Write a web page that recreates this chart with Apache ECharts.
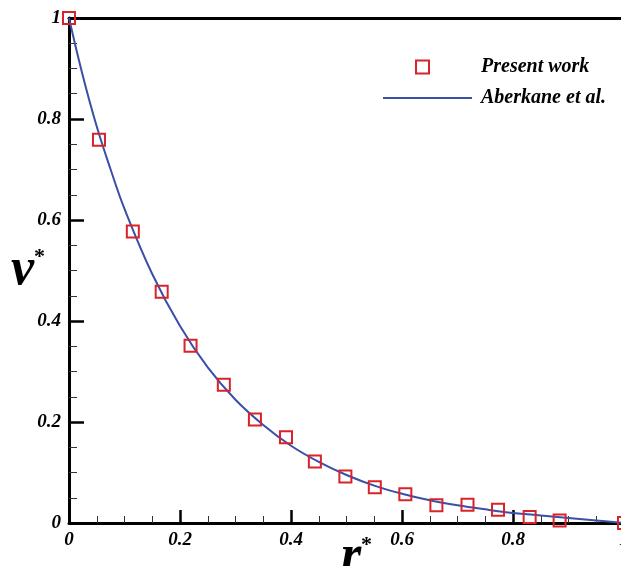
<!DOCTYPE html>
<html>
<head>
<meta charset="utf-8">
<script src="https://cdn.jsdelivr.net/npm/echarts@6/dist/echarts.min.js"></script>
<style>
  html, body { margin: 0; padding: 0; background: #fff; }
  #chart { width: 621px; height: 566px; }
</style>
</head>
<body>
<div id="chart"></div>
<script>
// present work (squares)
const markerR = [0, 0.054, 0.115, 0.167, 0.219, 0.279, 0.335, 0.391, 0.443, 0.498, 0.551, 0.606, 0.662, 0.718, 0.773, 0.83, 0.884, 1.0]
const markerV = [1.0, 0.759, 0.577, 0.458, 0.351, 0.274, 0.205, 0.170, 0.122, 0.092, 0.071, 0.057, 0.035, 0.036, 0.026, 0.012, 0.005, 0.0]
// Aberkane et al. (line)
const lineR = [0, 0.025, 0.05, 0.075, 0.1, 0.15, 0.2, 0.25, 0.3, 0.35, 0.4, 0.45, 0.5, 0.55, 0.6, 0.65, 0.7, 0.75, 0.8, 0.85, 0.9, 0.95, 1.0]
const lineV = [1.0, 0.885, 0.785, 0.700, 0.622, 0.493, 0.390, 0.308, 0.244, 0.194, 0.153, 0.121, 0.095, 0.074, 0.058, 0.045, 0.035, 0.027, 0.020, 0.015, 0.010, 0.005, 0.0]

const font = 'Liberation Serif'
const red = '#d9232a'
const blue = '#3a4fa6'

const labelStyle = { fontFamily: font, fontWeight: 'bold', fontStyle: 'italic', fontSize: 19, color: '#000' }
const legendText = { fontFamily: font, fontWeight: 'bold', fontStyle: 'italic', fontSize: 20, color: '#000' }
const nameRich = {
    b: { fontFamily: font, fontWeight: 'bold', fontStyle: 'italic', fontSize: 52, color: '#000' },
    s: { fontFamily: font, fontWeight: 'bold', fontSize: 22, color: '#000', padding: [0, 0, 26, 0] }
}

let myChart = echarts.init(document.getElementById('chart'))
const option = {
    animation: false,
    backgroundColor: '#fff',
    grid: { left: 69, top: 18, width: 555, height: 505, outerBoundsMode: 'none', containLabel: false },
    legend: [
        {
            data: ['Present work'],
            left: 410, top: 52,
            itemWidth: 13, itemHeight: 13,
            textStyle: Object.assign({ padding: [0, 0, 0, 47] }, legendText)
        },
        {
            data: [{ name: 'Aberkane et al.', icon: 'rect' }],
            left: 378, top: 83,
            itemWidth: 89, itemHeight: 2,
            textStyle: Object.assign({ padding: [0, 0, 0, 4] }, legendText)
        }
    ],
    xAxis: [
        {
            type: 'value', min: 0, max: 1, interval: 0.2,
            name: '{b|r}{s|*}', nameLocation: 'middle', nameGap: 9, nameMoveOverlap: false,
            nameTextStyle: { rich: nameRich, padding: [0, 0, 0, 20] },
            axisLine: { lineStyle: { color: '#000', width: 3 } },
            axisTick: { inside: true, length: 13, lineStyle: { color: '#000', width: 2.5 } },
            minorTick: { show: true, splitNumber: 4, length: 7, lineStyle: { color: '#333', width: 1 } },
            axisLabel: Object.assign({ margin: 8 }, labelStyle),
            splitLine: { show: false }
        },
        {
            type: 'value', min: 0, max: 1, position: 'top',
            axisLine: { show: true, onZero: false, lineStyle: { color: '#000', width: 3 } },
            axisTick: { show: false }, axisLabel: { show: false }, splitLine: { show: false }
        }
    ],
    yAxis: [
        {
            type: 'value', min: 0, max: 1, interval: 0.2,
            name: '{b|v}{s|*}', nameLocation: 'middle', nameGap: 24, nameRotate: 0, nameMoveOverlap: false,
            nameTextStyle: { rich: nameRich },
            axisLine: { lineStyle: { color: '#000', width: 3 } },
            axisTick: { inside: true, length: 15, lineStyle: { color: '#000', width: 2.5 } },
            minorTick: { show: true, splitNumber: 4, length: 8, lineStyle: { color: '#333', width: 1 } },
            axisLabel: Object.assign({ margin: 8 }, labelStyle),
            splitLine: { show: false }
        }
    ],
    series: [
        {
            name: 'Aberkane et al.',
            type: 'line',
            smooth: 0.4,
            symbol: 'none',
            data: lineR.map((r, i) => [r, lineV[i]]),
            lineStyle: { color: blue, width: 2 },
            itemStyle: { color: blue },
            z: 2
        },
        {
            name: 'Present work',
            type: 'scatter',
            symbol: 'rect',
            symbolSize: 12,
            clip: false,
            data: markerR.map((r, i) => [r, markerV[i]]),
            itemStyle: { color: 'rgba(255,255,255,0)', borderColor: red, borderWidth: 2, opacity: 1 },
            z: 3
        }
    ]
}
myChart.setOption(option)
</script>
</body>
</html>
